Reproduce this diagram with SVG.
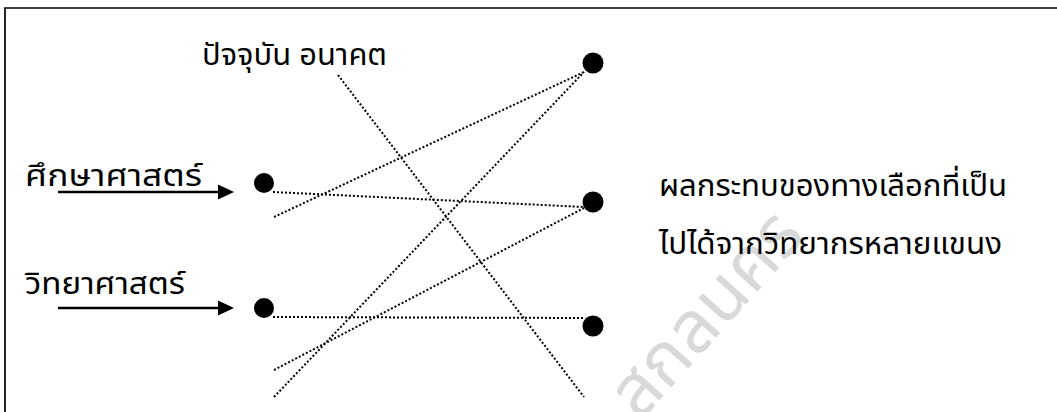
<svg xmlns="http://www.w3.org/2000/svg" width="1057" height="412" viewBox="0 0 1057 412">
  <defs>
    <style>
      .t { font-family: "Noto Sans Thai", "Noto Sans", "DejaVu Sans", sans-serif; font-size: 30px; fill: #000; }
      .dot { fill: #000; }
      .dl { stroke: #000; stroke-width: 2; stroke-dasharray: 2 2; fill: none; }
      .arr { stroke: #000; stroke-width: 2.4; fill: none; }
      .ah { fill: #000; }
      .wm { font-family: "Noto Sans Thai", "Noto Sans", sans-serif; font-size: 72px; fill: #d9d9d9; }
    </style>
  </defs>
  <rect width="1057" height="412" fill="#fff"/>
  <!-- watermark -->
  <text class="wm" transform="translate(640,422) rotate(-48)">สกลนคร</text>
  <!-- frame -->
  <path d="M5,412 V8 H1057" stroke="#000" stroke-width="1.7" fill="none"/>

  <g id="connectors">
    <line class="dl" x1="338" y1="75" x2="584" y2="397"/>
    <line class="dl" x1="273" y1="192" x2="584" y2="207"/>
    <line class="dl" x1="274" y1="217" x2="584" y2="72"/>
    <line class="dl" x1="273" y1="317" x2="584" y2="318"/>
    <line class="dl" x1="274" y1="370" x2="584" y2="208"/>
    <line class="dl" x1="274" y1="397" x2="584" y2="72"/>
    <line class="arr" x1="58" y1="192" x2="222" y2="192"/>
    <polygon class="ah" points="218,184.5 234,192 218,199.5"/>
    <line class="arr" x1="58" y1="308" x2="222" y2="308"/>
    <polygon class="ah" points="218,300.5 234,308 218,315.5"/>
  </g>

  <g id="label-time">
    <text class="t" x="202" y="65" textLength="185" lengthAdjust="spacingAndGlyphs">ปัจจุบัน อนาคต</text>
  </g>
  <g id="node-education">
    <text class="t" x="25" y="186" textLength="177" lengthAdjust="spacingAndGlyphs">ศึกษาศาสตร์</text>
    <circle class="dot" cx="264" cy="183" r="10"/>
  </g>
  <g id="node-science">
    <text class="t" x="25" y="294" textLength="160" lengthAdjust="spacingAndGlyphs">วิทยาศาสตร์</text>
    <circle class="dot" cx="264" cy="308" r="10"/>
  </g>
  <g id="node-out-1">
    <circle class="dot" cx="593" cy="63" r="10.5"/>
  </g>
  <g id="node-out-2">
    <circle class="dot" cx="593" cy="202" r="10.5"/>
  </g>
  <g id="node-out-3">
    <circle class="dot" cx="593" cy="326" r="10.5"/>
  </g>
  <g id="label-impact">
    <text class="t" x="659" y="196" textLength="348" lengthAdjust="spacingAndGlyphs">ผลกระทบของทางเลือกที่เป็น</text>
    <text class="t" x="659" y="254" textLength="343" lengthAdjust="spacingAndGlyphs">ไปได้จากวิทยากรหลายแขนง</text>
  </g>
</svg>
